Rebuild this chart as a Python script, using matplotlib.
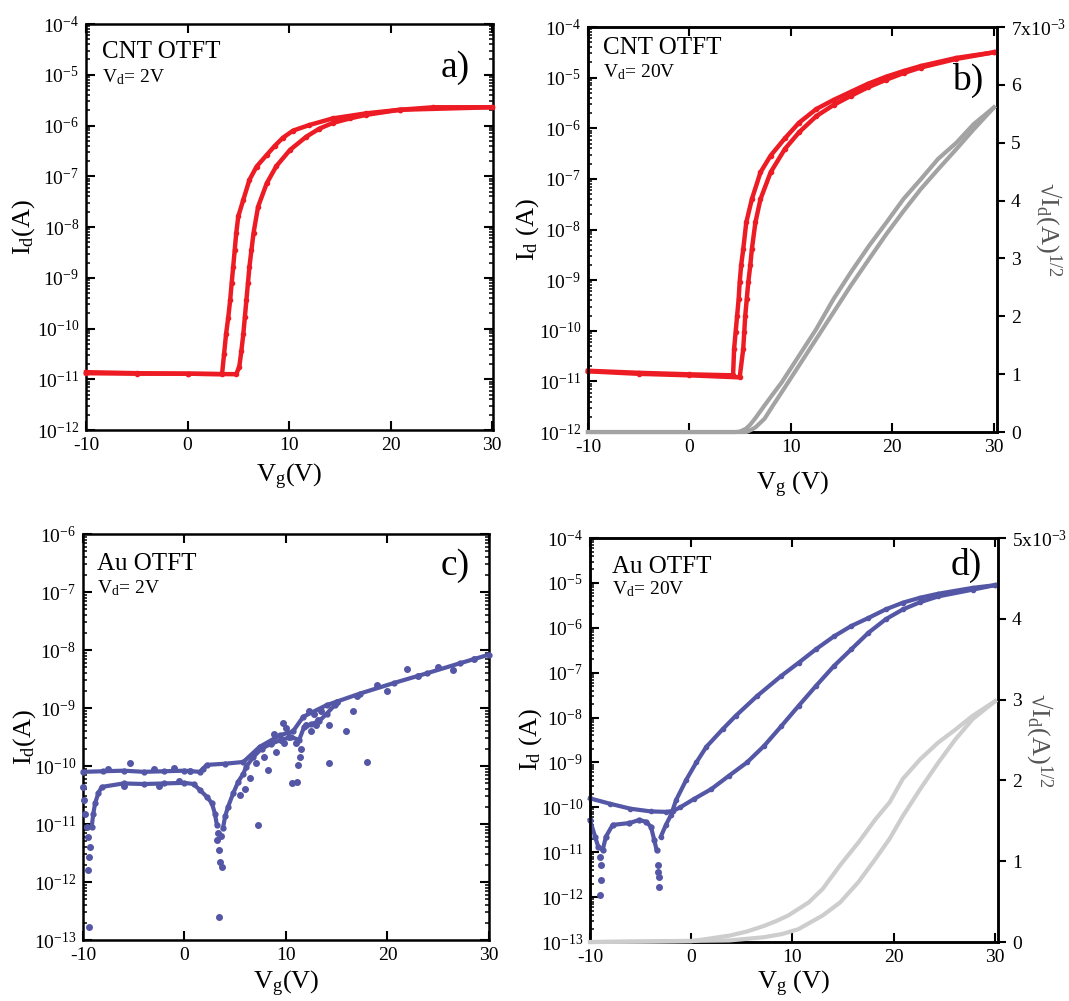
import numpy as np
import matplotlib.pyplot as plt
from matplotlib.ticker import LogLocator, FuncFormatter, NullFormatter, NullLocator

plt.rcParams['font.family'] = 'Liberation Serif'
plt.rcParams['mathtext.fontset'] = 'custom'
plt.rcParams['mathtext.rm'] = 'Liberation Serif'
plt.rcParams['mathtext.it'] = 'Liberation Serif:italic'
plt.rcParams['mathtext.default'] = 'regular'
plt.rcParams['axes.unicode_minus'] = False

RED = '#ED1C24'
BLUE = '#5456A6'
GRAY_B = '#A3A3A3'
GRAY_D = '#CDCDCD'

# ---- data (drain current as log10(Id/A)) ----
# a) CNT OTFT, Vd = 2 V
a_fwd_vg = [-10, -5, 0, 3.4, 3.6, 3.8, 4.0, 4.2, 4.35, 4.5, 4.65, 4.8, 5.0, 5.5, 6.1, 6.8, 7.8,
            8.6, 9.4, 10.4, 12.0, 14.3, 17.6, 20.9, 24.2, 30]
a_fwd_log = [-10.88, -10.89, -10.89, -10.90, -10.50, -10.10, -9.80, -9.44, -9.10, -8.78, -8.45, -8.12,
             -7.79, -7.46, -7.07, -6.81, -6.58, -6.40, -6.24, -6.10, -5.99, -5.86, -5.76, -5.69,
             -5.64, -5.64]
a_rev_vg = [-10, -5, 0, 4.8, 5.1, 5.3, 5.5, 5.65, 5.8, 5.95, 6.1, 6.3, 6.5, 6.95, 7.8, 8.75,
            10.1, 11.7, 13.0, 14.3, 16.0, 17.6, 20.9, 30]
a_rev_log = [-10.86, -10.88, -10.89, -10.90, -10.75, -10.45, -10.10, -9.77, -9.44, -9.11, -8.78,
             -8.45, -8.12, -7.60, -7.14, -6.80, -6.48, -6.22, -6.06, -5.95, -5.86, -5.79,
             -5.69, -5.64]

# b) CNT OTFT, Vd = 20 V
b_fwd_vg = [-10, -5, 0, 4.3, 4.4, 4.55, 4.7, 4.85, 4.95, 5.1, 5.3, 5.6, 6.15, 7.0, 8.0, 9.4,
            10.8, 12.5, 14.2, 15.9, 17.6, 19.4, 21.1, 22.8, 26.3, 30]
b_fwd_log = [-10.79, -10.83, -10.86, -10.88, -10.36, -10.03, -9.70, -9.37, -9.04, -8.70, -8.39,
             -7.86, -7.40, -6.87, -6.54, -6.20, -5.89, -5.62, -5.44, -5.28, -5.12, -4.98,
             -4.87, -4.77, -4.61, -4.50]
b_rev_vg = [-10, -5, 0, 4.95, 5.3, 5.4, 5.5, 5.65, 5.8, 6.0, 6.15, 6.5, 7.0, 8.0, 9.4, 10.8,
            12.5, 14.2, 15.9, 17.6, 19.4, 21.1, 22.8, 26.3, 30]
b_rev_log = [-10.80, -10.85, -10.88, -10.92, -10.36, -10.03, -9.70, -9.37, -9.04, -8.70, -8.39,
             -7.86, -7.40, -6.87, -6.41, -6.08, -5.76, -5.54, -5.36, -5.19, -5.04, -4.91,
             -4.80, -4.63, -4.50]
# sqrt(Id) in units of 1e-3 A^1/2
b_sq_fwd_vg = [-10, 4.6, 5.0, 5.6, 6.0, 6.5, 7.4, 8.2, 9.1, 10.8, 12.5, 14.2, 15.9, 17.7,
               19.4, 21.1, 22.8, 24.5, 26.3, 28.0, 30]
b_sq_fwd = [0, 0, 0.01, 0.06, 0.13, 0.24, 0.46, 0.65, 0.86, 1.32, 1.78, 2.30, 2.76, 3.22,
            3.62, 4.03, 4.37, 4.72, 5.00, 5.32, 5.61]
b_sq_rev_vg = [-10, 5.6, 6.0, 6.5, 7.4, 8.2, 9.1, 10.8, 12.5, 14.2, 15.9, 17.7, 19.4, 21.1,
               22.8, 24.5, 26.3, 28.0, 30]
b_sq_rev = [0, 0, 0.03, 0.08, 0.23, 0.45, 0.69, 1.15, 1.61, 2.07, 2.53, 2.99, 3.42, 3.82,
            4.20, 4.54, 4.89, 5.23, 5.61]

# c) Au OTFT, Vd = 2 V (noisy)
c_up_vg = [-10, -8, -6, -4, -2, 0, 1.5, 1.8, 2.2, 4.0, 5.8, 7.4, 9.4, 10.7, 11.7, 14.0,
           17.3, 20.6, 23.9, 27.1, 30]
c_up_log = [-10.10, -10.09, -10.08, -10.10, -10.09, -10.08, -10.10, -10.05, -9.98, -9.96,
            -9.93, -9.67, -9.47, -9.40, -9.15, -8.95, -8.75, -8.57, -8.40, -8.23, -8.08]
c_lo_vg = [-9.14, -8.98, -8.8, -8.49, -8.16, -6, -4, -2, 0, 0.9, 1.5, 2.2, 2.7, 3.0, 3.2]
c_lo_log = [-11.05, -10.82, -10.64, -10.47, -10.36, -10.30, -10.31, -10.30, -10.29, -10.31,
            -10.41, -10.53, -10.64, -10.82, -11.02]
c_lo2_vg = [3.8, 4.0, 4.3, 4.8, 5.3, 5.8, 6.1, 6.8, 7.6, 8.5, 9.5, 10.5, 11.3, 11.8, 12.5,
            13.3, 14.0, 14.8]
c_lo2_log = [-11.07, -10.87, -10.70, -10.47, -10.27, -10.13, -10.01, -9.84, -9.70, -9.62,
             -9.55, -9.50, -9.55, -9.32, -9.28, -9.22, -9.10, -8.95]
c_dip_vg = [-10.0, -9.9, -9.8, -9.64, -9.48, -9.3, -9.38, -9.48, -9.45,
            3.2, 3.4, 3.5, 3.66, 3.43, 3.3, 3.6]
c_dip_log = [-10.36, -10.59, -10.82, -11.05, -11.22, -11.39, -11.56, -11.79, -12.77,
             -11.28, -11.45, -11.65, -11.74, -12.6, -11.15, -11.2]
c_noise_vg = [7.27, 10.56, 11.05, 14.2, 18.0, 8.26, -5.4, 9.73, 14.2, 15.9, 16.6, 21.9, 11.2,
              6.5, 7.0, 7.8, 8.5, 9.0, 9.8, 10.3, 11.0, 11.5, 11.4, 12.0, 12.3, 12.8, 13.2,
              13.5, 12.5, 13.0, 6.0, 5.5, 8.8, 10.0, 9.5, 15.0, 17.0, 19.0, 20.0, 23.0, 25.0,
              26.5, 28.5, -7.5, -3, -1, 0.5, -6, -2.5, -0.5]
c_noise_log = [-11.02, -10.30, -10.27, -9.95, -9.93, -10.07, -9.94, -9.25, -9.29, -9.39, -9.05,
               -8.33, -9.98, -10.20, -9.95, -9.85, -9.60, -9.75, -9.60, -9.50, -9.60, -9.70,
               -9.85, -9.30, -9.05, -9.10, -9.20, -9.05, -9.40, -9.30, -10.40, -10.50, -9.45,
               -9.35, -9.55, -8.90, -8.80, -8.60, -8.70, -8.45, -8.30, -8.35, -8.15, -10.05,
               -10.05, -10.04, -10.08, -10.35, -10.35, -10.25]

# d) Au OTFT, Vd = 20 V
d_fwd_vg = [-10, -9.5, -9.18, -8.75, -8.42, -7.76, -6.12, -5.13, -4.47, -3.98, -3.65, -3.42]
d_fwd_log = [-10.28, -10.65, -10.88, -10.95, -10.65, -10.39, -10.35, -10.28, -10.32, -10.43,
             -10.73, -10.95]
d_fwd2_vg = [-3.0, -2.5, -2.0, -1.5, -0.5, 0.5, 1.5, 3.1, 4.4, 6.5, 8.9, 10.6, 12.3, 14.1, 15.8,
             17.5, 19.2, 20.9, 22.6, 24.4, 27.8, 30]
d_fwd2_log = [-10.65, -10.39, -10.17, -9.84, -9.39, -9.00, -8.65, -8.26, -7.96, -7.52, -7.07,
              -6.78, -6.48, -6.19, -5.96, -5.78, -5.59, -5.44, -5.33, -5.24, -5.11, -5.05]
d_dip_vg = [-9.01, -8.95, -8.95, -8.97, -3.32, -3.26, -3.22, -3.20]
d_dip_log = [-11.10, -11.28, -11.62, -11.96, -11.28, -11.43, -11.54, -11.78]
d_rev_vg = [-10, -8, -6, -4, -2.5, -1.8, -1.1, 0.3, 2.0, 3.7, 5.5, 7.2, 8.9, 10.6, 12.3, 14.1,
            15.8, 17.5, 19.2, 20.9, 22.6, 24.4, 27.8, 30]
d_rev_log = [-9.80, -9.92, -10.03, -10.09, -10.10, -10.08, -10.00, -9.81, -9.59, -9.30, -9.00,
             -8.63, -8.19, -7.74, -7.30, -6.85, -6.48, -6.11, -5.81, -5.59, -5.43, -5.30,
             -5.15, -5.05]
d_sq_fwd_vg = [-10, 0, 3.8, 5.5, 7.2, 8.4, 9.6, 11.6, 13.0, 14.7, 16.5, 18.2, 19.6, 20.9,
               22.6, 24.4, 26.1, 27.8, 30]
d_sq_fwd = [0, 0.01, 0.08, 0.13, 0.20, 0.26, 0.33, 0.49, 0.66, 0.95, 1.23, 1.52, 1.73, 2.02,
            2.26, 2.47, 2.63, 2.80, 2.98]
d_sq_rev_vg = [-10, 3.8, 7.2, 9.0, 10.6, 13.0, 14.7, 16.5, 18.2, 19.6, 20.9, 22.6, 24.4, 26.1,
               27.8, 30]
d_sq_rev = [0, 0.02, 0.06, 0.10, 0.16, 0.33, 0.49, 0.74, 1.03, 1.28, 1.56, 1.89, 2.22, 2.51,
            2.76, 2.98]


def amps(logs):
    return np.power(10.0, np.array(logs))


def log_fmt(v, pos):
    return r'$10^{%d}$' % int(round(np.log10(v)))


def style_axes(ax, ylim, xmax, right=True):
    ax.set_yscale('log')
    ax.set_ylim(*ylim)
    ax.set_xlim(-10, xmax)
    ax.set_xticks([-10, 0, 10, 20, 30])
    ax.xaxis.set_minor_locator(NullLocator())
    ax.yaxis.set_major_locator(LogLocator(base=10, numticks=30))
    ax.yaxis.set_minor_locator(LogLocator(base=10, subs=np.arange(2, 10), numticks=30))
    ax.yaxis.set_major_formatter(FuncFormatter(log_fmt))
    ax.yaxis.set_minor_formatter(NullFormatter())
    ax.tick_params(which='both', direction='in', top=True, right=right, labelsize=14, pad=5)
    ax.tick_params(which='major', length=6.5, width=1.5)
    ax.tick_params(which='minor', length=3, width=1.1)
    for s in ax.spines.values():
        s.set_linewidth(1.8)


def add_texts(ax, name, vd, letter, xy_name, y_vd, xy_letter):
    ax.text(xy_name[0], xy_name[1], name, transform=ax.transAxes, fontsize=18, va='baseline')
    ax.text(xy_name[0], y_vd, 'V$_d$= ' + vd, transform=ax.transAxes, fontsize=14, va='baseline')
    ax.text(xy_letter[0], xy_letter[1], letter, transform=ax.transAxes, fontsize=27,
            ha='right', va='baseline')


def twin_sqrt(ax, top, labels, label_x):
    ax2 = ax.twinx()
    ax2.set_ylim(0, top)
    ax2.set_yticks(range(top + 1))
    ax2.set_yticklabels(labels)
    ax2.tick_params(direction='out', length=6, width=1.5, labelsize=14, pad=4)
    for s in ax2.spines.values():
        s.set_linewidth(1.8)
    ax2.set_ylabel(r'√I$_d$(A)$^{1/2}$', fontsize=19, color='#555555',
                   rotation=270, va='bottom', ha='center')
    ax2.yaxis.set_label_coords(label_x, 0.5)
    return ax2


fig = plt.figure(figsize=(10.69, 10.01), dpi=100)

# ---------- a ----------
ax = fig.add_axes([0.0805, 0.5704, 0.3807, 0.4056])
ax.plot(a_fwd_vg, amps(a_fwd_log), '-o', color=RED, lw=3.2, ms=3, clip_on=False, zorder=3)
ax.plot(a_rev_vg, amps(a_rev_log), '-o', color=RED, lw=3.2, ms=3, clip_on=False, zorder=3)
style_axes(ax, (1e-12, 1e-4), 30.1)
ax.set_xlabel('V$_g$(V)', fontsize=19)
ax.set_ylabel('I$_d$(A)', fontsize=19)
ax.xaxis.set_label_coords(0.5, -0.078)
ax.yaxis.set_label_coords(-0.12, 0.5)
add_texts(ax, 'CNT OTFT', '2V', 'a)', (0.04, 0.916), 0.857, (0.943, 0.87))

# ---------- b ----------
ax = fig.add_axes([0.5500, 0.5684, 0.3826, 0.4046])
ax.plot(b_fwd_vg, amps(b_fwd_log), '-o', color=RED, lw=3.2, ms=3, clip_on=False, zorder=3)
ax.plot(b_rev_vg, amps(b_rev_log), '-o', color=RED, lw=3.2, ms=3, clip_on=False, zorder=3)
style_axes(ax, (1e-12, 1e-4), 30.3, right=False)
ax.set_xlabel('V$_g$ (V)', fontsize=19)
ax.set_ylabel('I$_d$ (A)', fontsize=19)
ax.xaxis.set_label_coords(0.5, -0.094)
ax.yaxis.set_label_coords(-0.116, 0.5)
add_texts(ax, 'CNT OTFT', '20V', 'b)', (0.037, 0.933), 0.875, (0.966, 0.846))
ax2 = twin_sqrt(ax, 7, ['0', '1', '2', '3', '4', '5', '6', r'7x10$^{-3}$'], 1.088)
ax2.plot(b_sq_fwd_vg, b_sq_fwd, color=GRAY_B, lw=3, clip_on=False, zorder=3)
ax2.plot(b_sq_rev_vg, b_sq_rev, color=GRAY_B, lw=3, clip_on=False, zorder=3)

# ---------- c ----------
ax = fig.add_axes([0.0776, 0.0609, 0.3798, 0.4056])
for vg, lg in [(c_up_vg, c_up_log), (c_lo_vg, c_lo_log), (c_lo2_vg, c_lo2_log)]:
    ax.plot(vg, amps(lg), '-o', color=BLUE, lw=3, ms=3.5, clip_on=False, zorder=3)
ax.plot(c_dip_vg, amps(c_dip_log), 'o', color=BLUE, ms=4, clip_on=False, zorder=3)
ax.plot(c_noise_vg, amps(c_noise_log), 'o', color=BLUE, ms=4, clip_on=False, zorder=3)
style_axes(ax, (1e-13, 1e-6), 30)
ax.set_xlabel('V$_g$(V)', fontsize=19)
ax.set_ylabel('I$_d$(A)', fontsize=19)
ax.xaxis.set_label_coords(0.5, -0.07)
ax.yaxis.set_label_coords(-0.11, 0.5)
add_texts(ax, 'Au OTFT', '2V', 'c)', (0.034, 0.911), 0.855, (0.953, 0.899))

# ---------- d ----------
ax = fig.add_axes([0.5519, 0.0589, 0.3817, 0.4036])
ax.plot(d_fwd_vg, amps(d_fwd_log), '-o', color=BLUE, lw=3, ms=3.5, clip_on=False, zorder=3)
ax.plot(d_fwd2_vg, amps(d_fwd2_log), '-o', color=BLUE, lw=3, ms=3, clip_on=False, zorder=3)
ax.plot(d_rev_vg, amps(d_rev_log), '-o', color=BLUE, lw=3, ms=3, clip_on=False, zorder=3)
ax.plot(d_dip_vg, amps(d_dip_log), 'o', color=BLUE, ms=4, clip_on=False, zorder=3)
style_axes(ax, (1e-13, 1e-4), 30.3, right=False)
ax.set_xlabel('V$_g$ (V)', fontsize=19)
ax.set_ylabel('I$_d$ (A)', fontsize=19)
ax.xaxis.set_label_coords(0.5, -0.066)
ax.yaxis.set_label_coords(-0.112, 0.5)
add_texts(ax, 'Au OTFT', '20V', 'd)', (0.053, 0.914), 0.86, (0.961, 0.91))
ax2 = twin_sqrt(ax, 5, ['0', '1', '2', '3', '4', r'5x10$^{-3}$'], 1.064)
ax2.plot(d_sq_fwd_vg, d_sq_fwd, color=GRAY_D, lw=3, clip_on=False, zorder=3)
ax2.plot(d_sq_rev_vg, d_sq_rev, color=GRAY_D, lw=3, clip_on=False, zorder=3)

fig.savefig('out.png', dpi=100)
